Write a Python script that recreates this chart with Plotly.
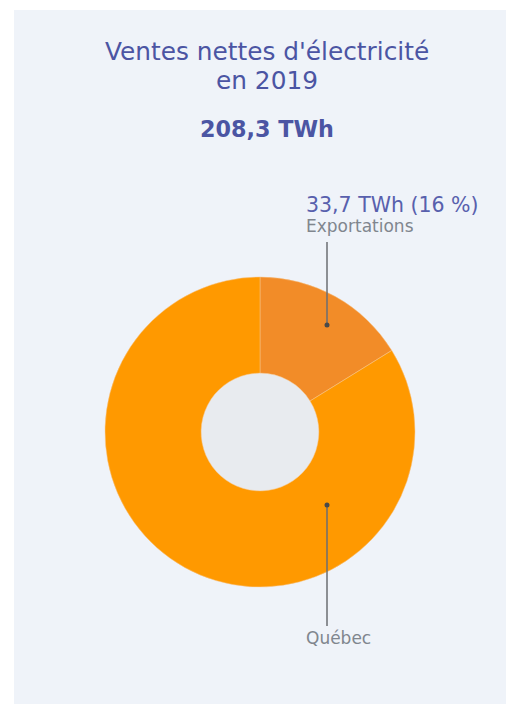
import plotly.graph_objects as go

# Data
labels = ["Exportations", "Québec"]
values = [33.7, 174.6]
colors = ["#f28c28", "#ff9900"]
title_lines = ["Ventes nettes d'électricité", "en 2019"]
total_label = "208,3 TWh"
export_label = "33,7 TWh (16 %)"

W, H = 506, 704
TITLE_COLOR = "#4b55a3"
GRAY = "#80868e"
FONT = "DejaVu Sans"


def fx(x):
    return x / W


def fy(y):
    return 1 - y / H


fig = go.Figure()

fig.add_trace(go.Pie(
    labels=labels,
    values=values,
    marker=dict(colors=colors, line=dict(color="#f7c58a", width=0.5)),
    hole=0.38,
    sort=False,
    direction="clockwise",
    rotation=0,
    textinfo="none",
    hoverinfo="label+value+percent",
    showlegend=False,
    domain=dict(x=[fx(105), fx(415)], y=[fy(587), fy(277)]),
))

shapes = [
    # panel background
    dict(type="rect", xref="paper", yref="paper", x0=fx(14), x1=1, y0=0, y1=fy(10),
         fillcolor="#eff3f9", line=dict(width=0), layer="below"),
    # donut hole fill
    dict(type="circle", xref="paper", yref="paper",
         x0=fx(201), x1=fx(319), y0=fy(491), y1=fy(373),
         fillcolor="#e8ebef", line=dict(width=0), layer="below"),
]

# leader lines with end dots
for (y0, y1) in [(242, 325), (505, 626)]:
    shapes.append(dict(type="line", xref="paper", yref="paper",
                       x0=fx(327), x1=fx(327), y0=fy(y0), y1=fy(y1),
                       line=dict(color="#6b6e72", width=1.5)))
for yd in [325, 505]:
    shapes.append(dict(type="circle", xref="paper", yref="paper",
                       x0=fx(324.5), x1=fx(329.5), y0=fy(yd + 2.5), y1=fy(yd - 2.5),
                       fillcolor="#4a4a4a", line=dict(width=0)))

export_text = (f"<span style='font-size:20.5px;color:#5860ad'>{export_label}</span><br>"
               f"<span style='font-size:17px;color:{GRAY}'>{labels[0]}</span>")

annotations = [
    dict(text=title_lines[0], x=fx(267), y=fy(52),
         xref="paper", yref="paper", xanchor="center", yanchor="middle", showarrow=False,
         font=dict(family=FONT, size=24.8, color=TITLE_COLOR)),
    dict(text=title_lines[1], x=fx(267), y=fy(81),
         xref="paper", yref="paper", xanchor="center", yanchor="middle", showarrow=False,
         font=dict(family=FONT, size=24.8, color=TITLE_COLOR)),
    dict(text="<b>" + total_label + "</b>", x=fx(267), y=fy(129),
         xref="paper", yref="paper", xanchor="center", yanchor="middle", showarrow=False,
         font=dict(family=FONT, size=22.3, color=TITLE_COLOR)),
    dict(text=export_text, x=fx(304), y=fy(214),
         xref="paper", yref="paper", xanchor="left", yanchor="middle", align="left",
         showarrow=False, font=dict(family=FONT, size=15, color=GRAY)),
    dict(text=labels[1], x=fx(304), y=fy(638),
         xref="paper", yref="paper", xanchor="left", yanchor="middle", showarrow=False,
         font=dict(family=FONT, size=17, color=GRAY)),
]

fig.update_layout(
    width=W, height=H,
    margin=dict(l=0, r=0, t=0, b=0),
    paper_bgcolor="white",
    plot_bgcolor="white",
    shapes=shapes,
    annotations=annotations,
)

# drop the default 8px page margin so the figure fills the window
fig.write_html("out.html", config={"displayModeBar": False},
               post_script="document.body.style.margin='0';document.body.style.overflow='hidden';")
